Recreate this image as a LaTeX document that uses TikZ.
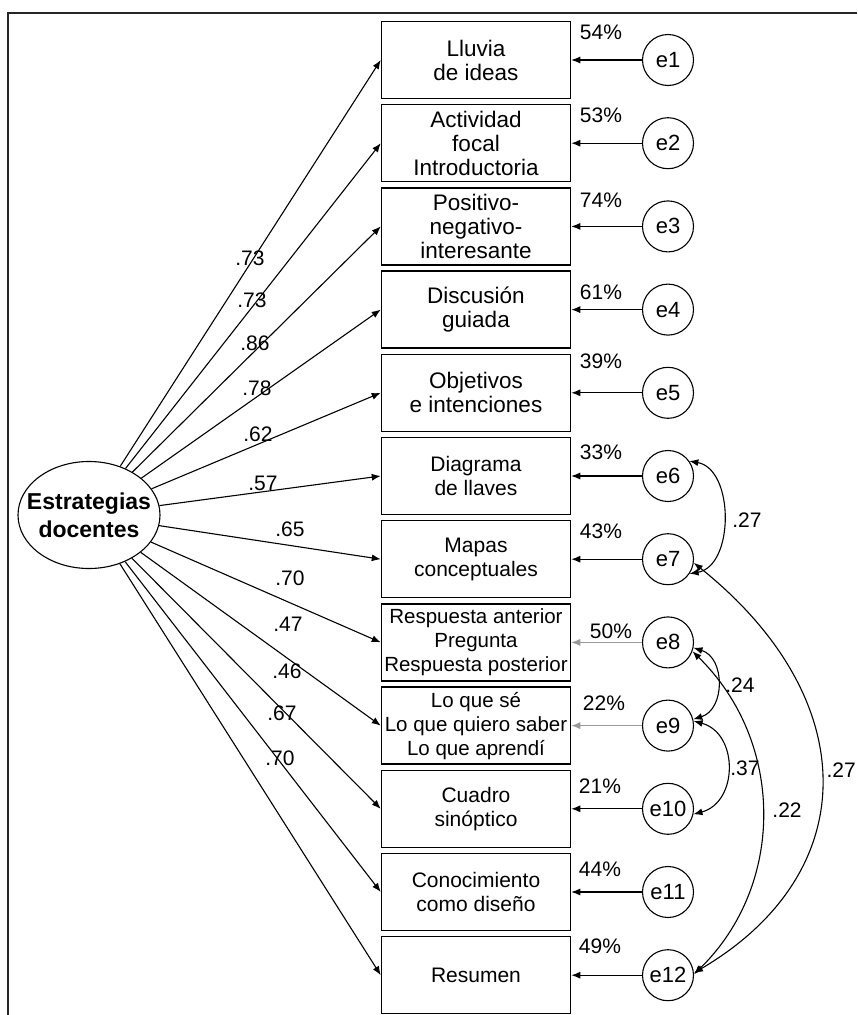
\documentclass[tikz,border=0pt]{standalone}
\usepackage{fontspec}
\setmainfont{Liberation Sans}
\usetikzlibrary{shapes.geometric,arrows.meta}

\tikzset{
  obs/.style={draw,line width=1.5pt,minimum width=189pt,minimum height=77pt,inner sep=0pt,align=center},
  err/.style={draw,circle,line width=1.1pt,minimum size=51pt,inner sep=0pt,font=\fontsize{22}{24}\selectfont},
  latent/.style={draw,ellipse,line width=1.1pt,minimum width=142pt,minimum height=107pt,inner sep=0pt},
  load/.style={line width=1.1pt,-{Latex[length=9pt,width=7pt]}},
  cov/.style={line width=1.1pt,{Latex[length=9pt,width=7pt]}-{Latex[length=9pt,width=7pt]}},
  num/.style={font=\fontsize{21}{24}\selectfont,inner sep=0pt},
}

\begin{document}
\begin{tikzpicture}[x=1pt,y=-1pt]
  \useasboundingbox (0,0) rectangle (857,1015);
  \draw[line width=2pt,black!85] (857,13) -- (8,13) -- (8,1015);

  \node[latent,label={[font=\bfseries\fontsize{23}{28}\selectfont,align=center]center:{Estrategias\\docentes}}] (lat) at (89,515) {};

  \foreach \txt/\fs/\pct/\px/\py/\ld/\lx/\ly/\lc [count=\i] in {
    {Lluvia\\de ideas}/22.5/54/601/32/73/250/258/black,
    {Actividad\\focal\\Introductoria}/22.5/53/601/115/73/252/300/black,
    {Positivo-\\negativo-\\interesante}/22.5/74/601/200/86/255/343/black,
    {Discusión\\guiada}/22.5/61/601/292/78/257/388/black,
    {Objetivos\\e intenciones}/22.5/39/601/361/62/258/434/black,
    {Diagrama\\de llaves}/21/33/601/452/57/263/483/black,
    {Mapas\\conceptuales}/21/43/601/531/65/290/529/black,
    {Respuesta anterior\\Pregunta\\Respuesta posterior}/20.5/50/611/631/70/290/578/black!40,
    {Lo que sé\\Lo que quiero saber\\Lo que aprendí}/20.5/22/604/703/47/288/624/black!40,
    {Cuadro\\sinóptico}/21/21/600/786/46/287/671/black,
    {Conocimiento\\como diseño}/21/44/600/869/67/282/713/black,
    {Resumen}/21/49/600/946/70/280/758/black} {
    \node[obs,font=\fontsize{\fs}{24}\selectfont] (b\i) at (476,{60+83.2*(\i-1)}) {\txt};
    \node[err] (e\i) at (668,{60+83.2*(\i-1)}) {e\i};
    \draw[load,\lc] (e\i) -- (b\i);
    \draw[load] (lat) -- (b\i.west);
    \node[num] (p\i) at (\px,\py) {\pct\%};
    \node[num] (l\i) at (\lx,\ly) {.\ld};
  }

  % correlated errors
  \draw[cov] (e6.35) .. controls +(45,8) and +(45,-8) .. (e7.-34);
  \draw[cov] (e7.-8) .. controls +(170,136) and +(170,-100) .. (e12.5);
  \draw[cov] (e8.-12) .. controls +(32,10) and +(32,-10) .. (e9.14);
  \draw[cov] (e9.10) .. controls +(45,12) and +(45,-12) .. (e10.-12);
  \draw[cov] (e8.-20) .. controls +(92,90) and +(92,-90) .. (e12.2);

  \node[num] (c1) at (747,520) {.27};
  \node[num] (c2) at (740,685) {.24};
  \node[num] (c3) at (745,768) {.37};
  \node[num] (c4) at (787,810) {.22};
  \node[num,anchor=east] (c5) at (856,770) {.27};
\end{tikzpicture}
\end{document}
